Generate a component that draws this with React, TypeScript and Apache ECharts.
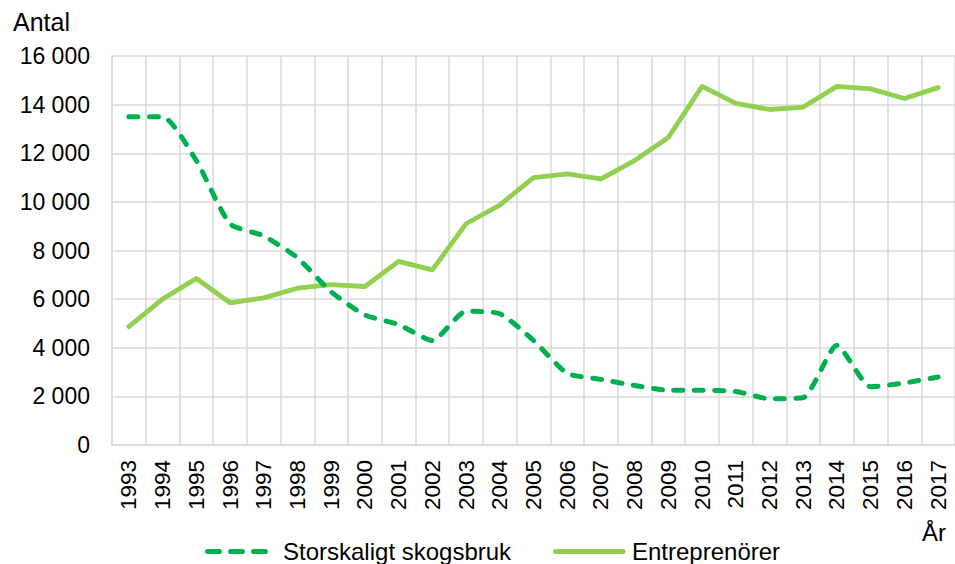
import React, { useEffect, useRef } from "react";
import * as echarts from "echarts";

const years = [
  "1993", "1994", "1995", "1996", "1997", "1998", "1999", "2000", "2001", "2002",
  "2003", "2004", "2005", "2006", "2007", "2008", "2009", "2010", "2011", "2012",
  "2013", "2014", "2015", "2016", "2017",
];

const storskaligt = [
  13500, 13500, 11700, 9100, 8600, 7700, 6300, 5350, 4950, 4300,
  5500, 5400, 4300, 2950, 2700, 2450, 2250, 2250, 2200, 1900,
  1950, 4100, 2400, 2550, 2800,
];

const entreprenorer = [
  4870, 6000, 6850, 5850, 6050, 6450, 6600, 6520, 7550, 7200,
  9100, 9870, 11000, 11150, 10950, 11700, 12650, 14750, 14050, 13800,
  13900, 14750, 14650, 14250, 14700,
];

const seriesNames = ["Storskaligt skogsbruk", "Entreprenörer"];
const seriesColors = ["#00B050", "#92D050"];
const yAxisTitle = "Antal";
const xAxisTitle = "År";

const FONT = "'Liberation Sans', Arial, sans-serif";

export default function App() {
  const ref = useRef<HTMLDivElement>(null);

  useEffect(() => {
    document.body.style.margin = "0";
    if (!ref.current) return;
    const chart = echarts.init(ref.current, undefined, { renderer: "svg" });
    const legendY = 551.5;
    chart.setOption({
      animation: false,
      backgroundColor: "#ffffff",
      textStyle: { fontFamily: FONT },
      grid: { left: 112, top: 56, width: 848, height: 389, containLabel: false },
      xAxis: {
        type: "category",
        data: years,
        boundaryGap: true,
        axisLine: { show: true, lineStyle: { color: "#d9d9d9", width: 1.5 } },
        axisTick: { show: false },
        splitLine: { show: true, interval: 0, lineStyle: { color: "#d9d9d9", width: 1.5 } },
        axisLabel: {
          interval: 0,
          rotate: 90,
          margin: 15,
          color: "#000",
          fontSize: 22.5,
          fontFamily: FONT,
        },
      },
      yAxis: {
        type: "value",
        min: 0,
        max: 16000,
        interval: 2000,
        axisLine: { show: true, lineStyle: { color: "#d9d9d9", width: 1.5 } },
        axisTick: { show: false },
        splitLine: { show: true, lineStyle: { color: "#d9d9d9", width: 1.5 } },
        axisLabel: {
          margin: 22,
          color: "#000",
          fontSize: 23,
          fontFamily: FONT,
          formatter: (v: number) => String(v).replace(/\B(?=(\d{3})+(?!\d))/g, " "),
        },
      },
      legend: { show: false },
      graphic: [
        {
          type: "text",
          left: 13,
          top: 9,
          style: { text: yAxisTitle, fontSize: 25, fill: "#000", fontFamily: FONT },
        },
        {
          type: "text",
          left: 922,
          top: 520,
          style: { text: xAxisTitle, fontSize: 24, fill: "#000", fontFamily: FONT },
        },
        {
          type: "line",
          shape: { x1: 207.5, y1: legendY, x2: 268, y2: legendY },
          style: { stroke: seriesColors[0], lineWidth: 5, lineDash: [12, 11], lineCap: "round" },
        },
        {
          type: "text",
          x: 283,
          y: legendY,
          style: {
            text: seriesNames[0],
            fontSize: 24,
            fill: "#000",
            fontFamily: FONT,
            verticalAlign: "middle",
            align: "left",
          },
        },
        {
          type: "line",
          shape: { x1: 555.5, y1: legendY, x2: 623, y2: legendY },
          style: { stroke: seriesColors[1], lineWidth: 5, lineCap: "round" },
        },
        {
          type: "text",
          x: 632,
          y: legendY,
          style: {
            text: seriesNames[1],
            fontSize: 24,
            fill: "#000",
            fontFamily: FONT,
            verticalAlign: "middle",
            align: "left",
          },
        },
      ],
      series: [
        {
          name: seriesNames[0],
          type: "line",
          data: storskaligt,
          smooth: 0.2,
          symbol: "none",
          showSymbol: false,
          lineStyle: { color: seriesColors[0], width: 5, type: [9, 11.5], cap: "round", join: "round" },
          itemStyle: { color: seriesColors[0] },
          z: 3,
        },
        {
          name: seriesNames[1],
          type: "line",
          data: entreprenorer,
          symbol: "none",
          showSymbol: false,
          lineStyle: { color: seriesColors[1], width: 4.8, cap: "round", join: "round" },
          itemStyle: { color: seriesColors[1] },
          z: 2,
        },
      ],
    });
    return () => chart.dispose();
  }, []);

  return <div ref={ref} style={{ width: 955, height: 564 }} />;
}
